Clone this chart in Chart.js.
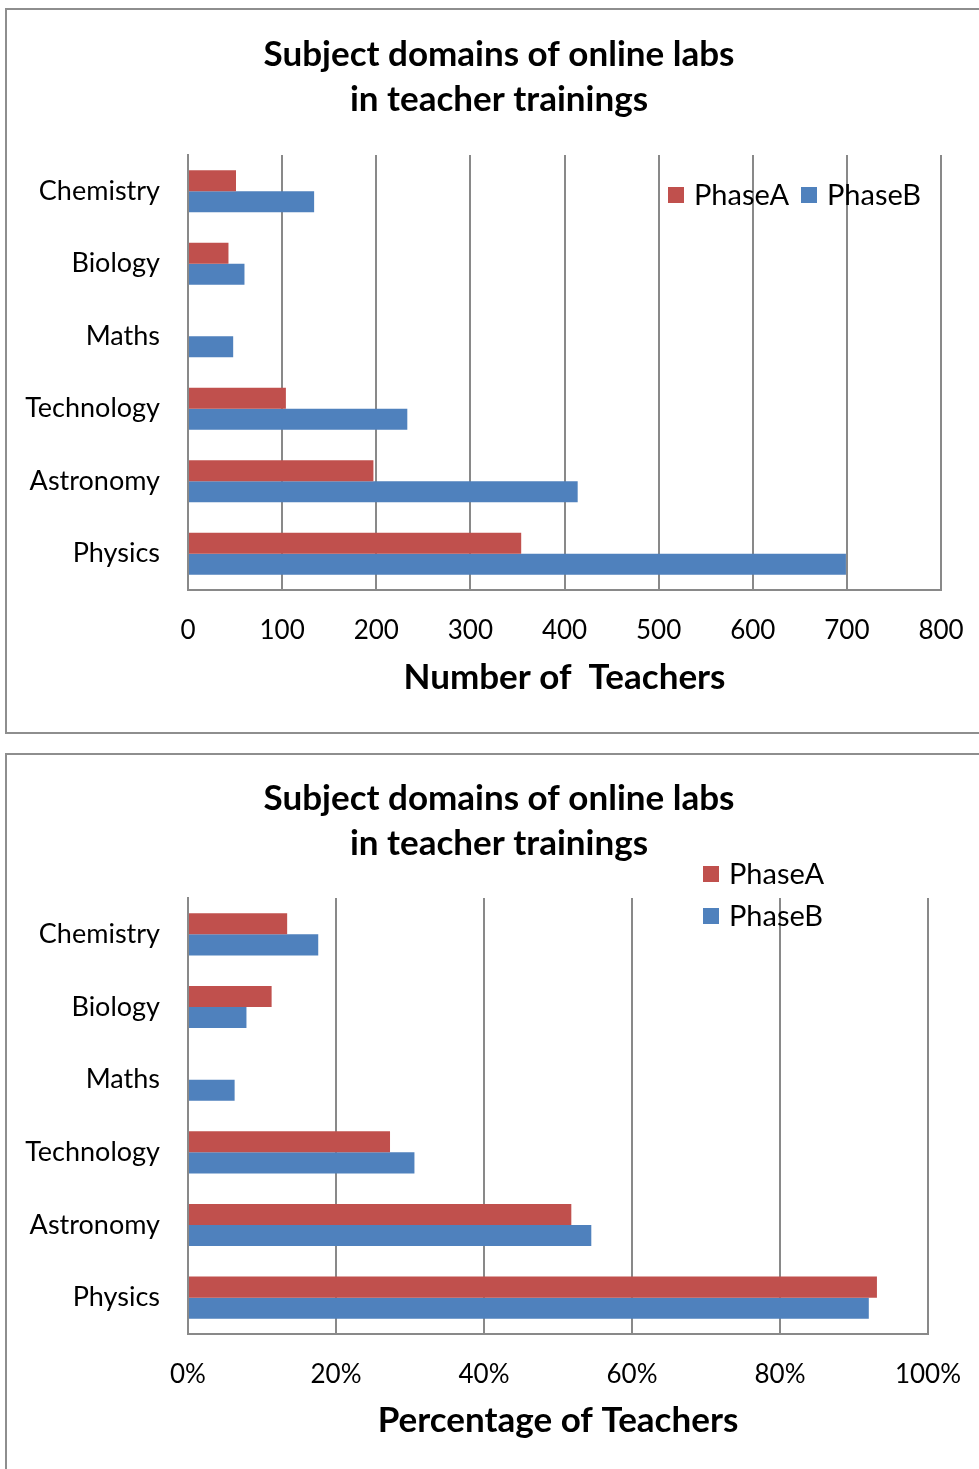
<!DOCTYPE html>
<html>
<head>
<meta charset="utf-8">
<script src="https://cdn.jsdelivr.net/npm/chart.js@4"></script>
<style>
	html, body { margin: 0; padding: 0; background: #fff; overflow: hidden; }
	body { width: 979px; height: 1469px; position: relative; }
	.panel { position: absolute; left: 5px; width: 984px; border: 2px solid #8e8e8e; background: #fff; }
	#panel_count { top: 8px; height: 722px; }
	#panel_percent { top: 753px; height: 714px; }
</style>
</head>
<body>
<div class="panel" id="panel_count"><canvas id="count_bar"></canvas></div>
<div class="panel" id="panel_percent"><canvas id="percent_bar"></canvas></div>

<script>
var subjects = ['Chemistry', 'Biology', 'Maths', 'Technology', 'Astronomy', 'Physics'];
var seriesNames = ['PhaseA', 'PhaseB'];
var seriesColors = ['#C0504D', '#4F81BD'];

// number of teachers per subject
var phaseACount = [51, 43, 0, 104, 197, 354];
var phaseBCount = [134, 60, 48, 233, 414, 699];
var countTicks = [0, 100, 200, 300, 400, 500, 600, 700, 800];

// share of teachers per subject, in percent
var phaseAPercent = [13.4, 11.3, 0, 27.3, 51.8, 93.1];
var phaseBPercent = [17.6, 7.9, 6.3, 30.6, 54.5, 92.0];
var percentTicks = [0, 20, 40, 60, 80, 100];

var chartTitle = ['Subject domains of online labs', 'in teacher trainings'];

var gridGrey = '#898989';

// draws the little square + name legend at a fixed spot
var squareLegend = {
	id: 'squareLegend',
	afterDraw: function (chart, args, opts) {
		var ctx = chart.ctx;
		ctx.save();
		ctx.font = "29px Lato";
		ctx.textBaseline = "middle";
		ctx.textAlign = "left";
		chart.data.datasets.forEach(function (ds, i) {
			var pos = opts.items[i];
			ctx.fillStyle = ds.backgroundColor;
			ctx.fillRect(pos.x, pos.y - 8, 16, 16);
			ctx.fillStyle = '#000';
			ctx.fillText(ds.label, pos.x + 26, pos.y + 1);
		});
		ctx.restore();
	}
};

function makeDatasets(a, b) {
	return [a, b].map(function (values, i) {
		return {
			label: seriesNames[i],
			data: values,
			backgroundColor: seriesColors[i],
			borderWidth: 0,
			categoryPercentage: 0.58,
			barPercentage: 1.0
		};
	});
}

function renderSubjectChart(canvasId, datasets, cfg) {
	var ctx = document.getElementById(canvasId).getContext('2d');

	return new Chart(ctx, {
		type: 'bar',
		data: {
			labels: subjects,
			datasets: datasets
		},
		options: {
			indexAxis: 'y',
			responsive: true,
			maintainAspectRatio: false,
			animation: false,
			layout: {
				padding: 0
			},
			scales: {
				x: {
					min: 0,
					max: cfg.ticks[cfg.ticks.length - 1],
					afterBuildTicks: function (scale) {
						scale.ticks = cfg.ticks.map(function (v) { return { value: v }; });
					},
					afterFit: function (scale) {
						scale.height = cfg.xHeight;
					},
					grid: {
						color: gridGrey,
						lineWidth: 2,
						drawTicks: false
					},
					border: { color: gridGrey, width: 2 },
					ticks: {
						color: '#000',
						padding: 25,
						font: { family: 'Lato', size: 26 },
						callback: cfg.tickFormat
					},
					title: {
						display: true,
						text: cfg.axisTitle,
						color: '#000',
						font: { family: 'Lato', size: 35, weight: 'bold', lineHeight: 36 / 35 },
						padding: { top: 0, bottom: cfg.titlePad }
					}
				},
				y: {
					afterFit: function (scale) {
						scale.width = 181;
					},
					grid: { display: false, drawTicks: false },
					border: { color: gridGrey, width: 2 },
					ticks: {
						color: '#000',
						padding: 28,
						font: { family: 'Lato', size: 27 }
					}
				},
				// empty strip on the right, keeps the heading centred on the panel
				gutter: {
					type: 'category',
					position: 'right',
					afterFit: function (scale) {
						scale.width = cfg.rightGap;
					},
					grid: { display: false, drawTicks: false },
					border: { display: false },
					ticks: { display: false }
				}
			},
			plugins: {
				legend: { display: false },
				tooltip: { enabled: false },
				title: {
					display: true,
					text: chartTitle,
					color: '#000',
					font: { family: 'Lato', size: 35, weight: 'bold', lineHeight: 45 / 35 },
					padding: { top: cfg.headTop, bottom: cfg.headBottom }
				},
				squareLegend: { items: cfg.legend }
			}
		},
		plugins: [squareLegend]
	});
}

renderSubjectChart('count_bar', makeDatasets(phaseACount, phaseBCount), {
	ticks: countTicks,
	tickFormat: function (v) { return v; },
	axisTitle: 'Number of  Teachers',
	rightGap: 50,
	xHeight: 142,
	titlePad: 36,
	headTop: 22.5,
	headBottom: 32.5,
	legend: [{ x: 661, y: 185 }, { x: 794, y: 185 }]
});

renderSubjectChart('percent_bar', makeDatasets(phaseAPercent, phaseBPercent), {
	ticks: percentTicks,
	tickFormat: function (v) { return v + '%'; },
	axisTitle: 'Percentage of Teachers',
	rightGap: 63,
	xHeight: 135,
	titlePad: 30,
	headTop: 21.5,
	headBottom: 31.5,
	legend: [{ x: 696, y: 119 }, { x: 696, y: 161 }]
});
</script>
</body>
</html>
